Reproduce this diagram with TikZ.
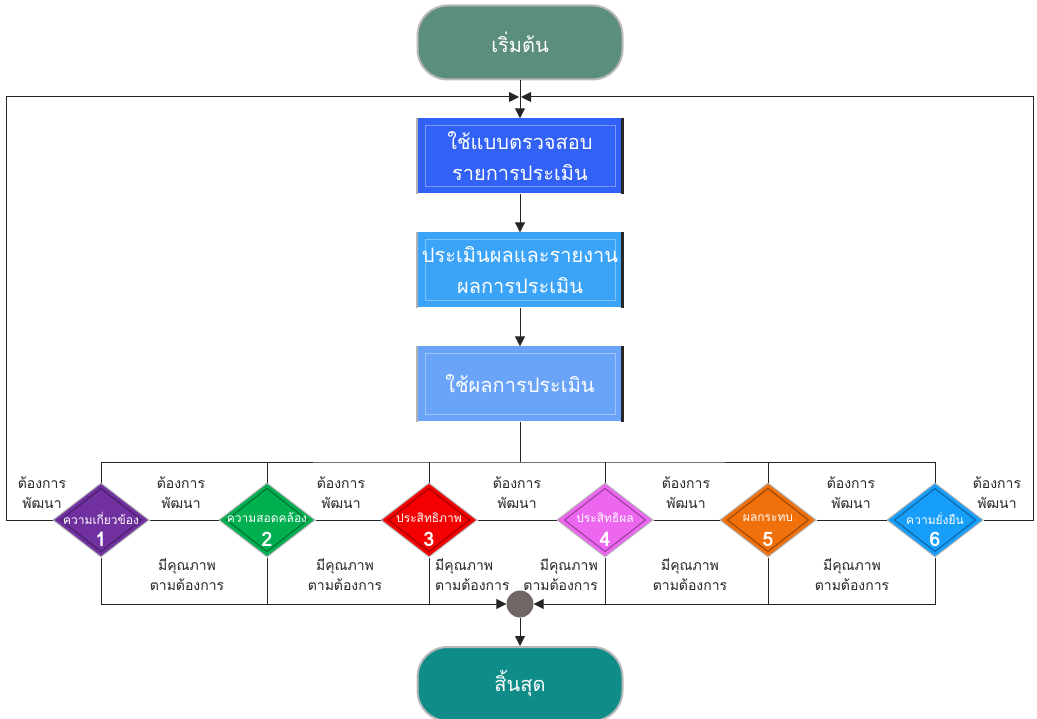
\documentclass[tikz,border=0pt]{standalone}
\usepackage{fontspec}
\setmainfont{Liberation Sans}
\newfontfamily\thaifont[Script=Thai]{Loma}
\usetikzlibrary{shapes.geometric,arrows.meta}

\definecolor{startgreen}{RGB}{92,142,126}
\definecolor{endteal}{RGB}{16,140,136}
\definecolor{boxblue}{RGB}{50,98,245}
\definecolor{boxsky}{RGB}{60,164,248}
\definecolor{boxpale}{RGB}{106,164,248}
\definecolor{dpurple}{RGB}{112,48,160}
\definecolor{dgreen}{RGB}{0,176,80}
\definecolor{dred}{RGB}{245,0,0}
\definecolor{dpink}{RGB}{236,102,240}
\definecolor{dorange}{RGB}{240,112,12}
\definecolor{dblue}{RGB}{22,158,250}
\definecolor{joingray}{RGB}{112,102,102}

\begin{document}
\begin{tikzpicture}[x=1pt,y=1pt,yscale=-1,
	box/.style={rectangle, minimum width=205pt, minimum height=75pt, inner sep=0pt, text=white, align=center, font=\thaifont\fontsize{20}{31}\selectfont},
	term/.style={rectangle, rounded corners=30pt, minimum width=205pt, minimum height=74pt, draw=gray!55, line width=2pt, text=white, font=\thaifont\fontsize{20}{24}\selectfont},
	dia/.style={diamond, minimum width=96pt, minimum height=74pt, inner sep=0pt, draw=gray!60, line width=1pt},
	dlabel/.style={text=white, inner sep=0pt, font=\thaifont\fontsize{12}{14}\selectfont},
	dnum/.style={text=white, inner sep=0pt, font=\thaifont\bfseries\fontsize{20}{22}\selectfont},
	lbl/.style={align=center, inner sep=0pt, text=black!85, font=\thaifont\fontsize{14}{20}\selectfont},
	line/.style={draw=black!85, line width=1pt},
	arr/.style={-{Triangle[length=10pt,width=10pt]}}
	]
	\useasboundingbox (0,0) rectangle (1037,719);
	
	% Start / End
	\node[term, fill=startgreen] (start) at (520,42.5) {เริ่มต้น};
	\node[term, fill=endteal] (end) at (520,684) {สิ้นสุด};
	
	% Process boxes
	\node[box, fill=boxblue] (b1) at (520,156) {ใช้แบบตรวจสอบ\\รายการประเมิน};
	\node[box, fill=boxsky] (b2) at (520,270) {ประเมินผลและรายงาน\\ผลการประเมิน};
	\node[box, fill=boxpale] (b3) at (520,384) {ใช้ผลการประเมิน};
	\foreach \b in {b1,b2,b3} {
		\draw[white, opacity=0.35] ([shift={(8pt,7pt)}]\b.north west) rectangle ([shift={(-8pt,-7pt)}]\b.south east);
		\draw[black!85, line width=2.5pt] (\b.north east) -- (\b.south east);
		\draw[gray!60, line width=2pt] (\b.north west) -- (\b.south west);
	}
	
	% Join points
	\coordinate (merge) at (520,97);
	\coordinate (bar) at (520,462);
	\node[circle, fill=joingray, minimum size=27pt, inner sep=0pt] (join) at (520,604) {};
	
	% Decision diamonds
	\foreach \n/\x/\c/\t in {1/101/dpurple/ความเกี่ยวข้อง, 2/267/dgreen/ความสอดคล้อง, 3/429/dred/ประสิทธิภาพ, 4/605/dpink/ประสิทธิผล, 5/768/dorange/ผลกระทบ, 6/935/dblue/ความยั่งยืน} {
		\node[dia, fill=\c] (d\n) at (\x,520) {};
		\draw[\c!55!black, line width=0.8pt] ([xshift=8pt]d\n.west) -- ([yshift=6pt]d\n.north) -- ([xshift=-8pt]d\n.east) -- ([yshift=-6pt]d\n.south) -- cycle;
		\node[dlabel] (dl\n) at (\x,518) {\t};
		\node[dnum] (dn\n) at (\x,539) {\n};
	}
	
	% Text Node
	\node[lbl] (dev0) at (42,493) {ต้องการ\\พัฒนา};
	\node[lbl] (dev1) at (181,493) {ต้องการ\\พัฒนา};
	\node[lbl] (dev2) at (341,493) {ต้องการ\\พัฒนา};
	\node[lbl] (dev3) at (517,493) {ต้องการ\\พัฒนา};
	\node[lbl] (dev4) at (686,493) {ต้องการ\\พัฒนา};
	\node[lbl] (dev5) at (851,493) {ต้องการ\\พัฒนา};
	\node[lbl] (dev6) at (997,493) {ต้องการ\\พัฒนา};
	% Text Node
	\node[lbl] (ok1) at (187,575) {มีคุณภาพ\\ตามต้องการ};
	\node[lbl] (ok2) at (345,575) {มีคุณภาพ\\ตามต้องการ};
	\node[lbl, align=left, anchor=west] (ok3) at (435,575) {มีคุณภาพ\\ตามต้องการ};
	\node[lbl, align=right, anchor=east] (ok4) at (598,575) {มีคุณภาพ\\ตามต้องการ};
	\node[lbl] (ok5) at (690,575) {มีคุณภาพ\\ตามต้องการ};
	\node[lbl] (ok6) at (852,575) {มีคุณภาพ\\ตามต้องการ};
	
	% Connection
	\draw[line, arr] (start) -- (b1);
	\draw[line, arr] (b1) -- (b2);
	\draw[line, arr] (b2) -- (b3);
	\draw[line] (b3) -- (bar);
	\draw[line] (d1.north) |- (bar) -| (d6.north);
	\foreach \n in {2,...,5}
		\draw[line] (d\n.north) -- (d\n.north |- bar);
	\foreach \a/\b in {1/2,2/3,3/4,4/5,5/6}
		\draw[line] (d\a.east) -- (d\b.west);
	% Connection
	\draw[line, arr] (d1.west) -- ++(-46,0) |- ([xshift=-1pt]merge);
	\draw[line, arr] (d6.east) -- ++(50,0) |- ([xshift=1pt]merge);
	% Connection
	\draw[line, arr] (d1.south) |- (join);
	\draw[line, arr] (d6.south) |- (join);
	\foreach \n in {2,...,5}
		\draw[line] (d\n.south) -- (d\n.south |- join);
	\draw[line, arr] (join) -- (end);
	
\end{tikzpicture}
\end{document}
